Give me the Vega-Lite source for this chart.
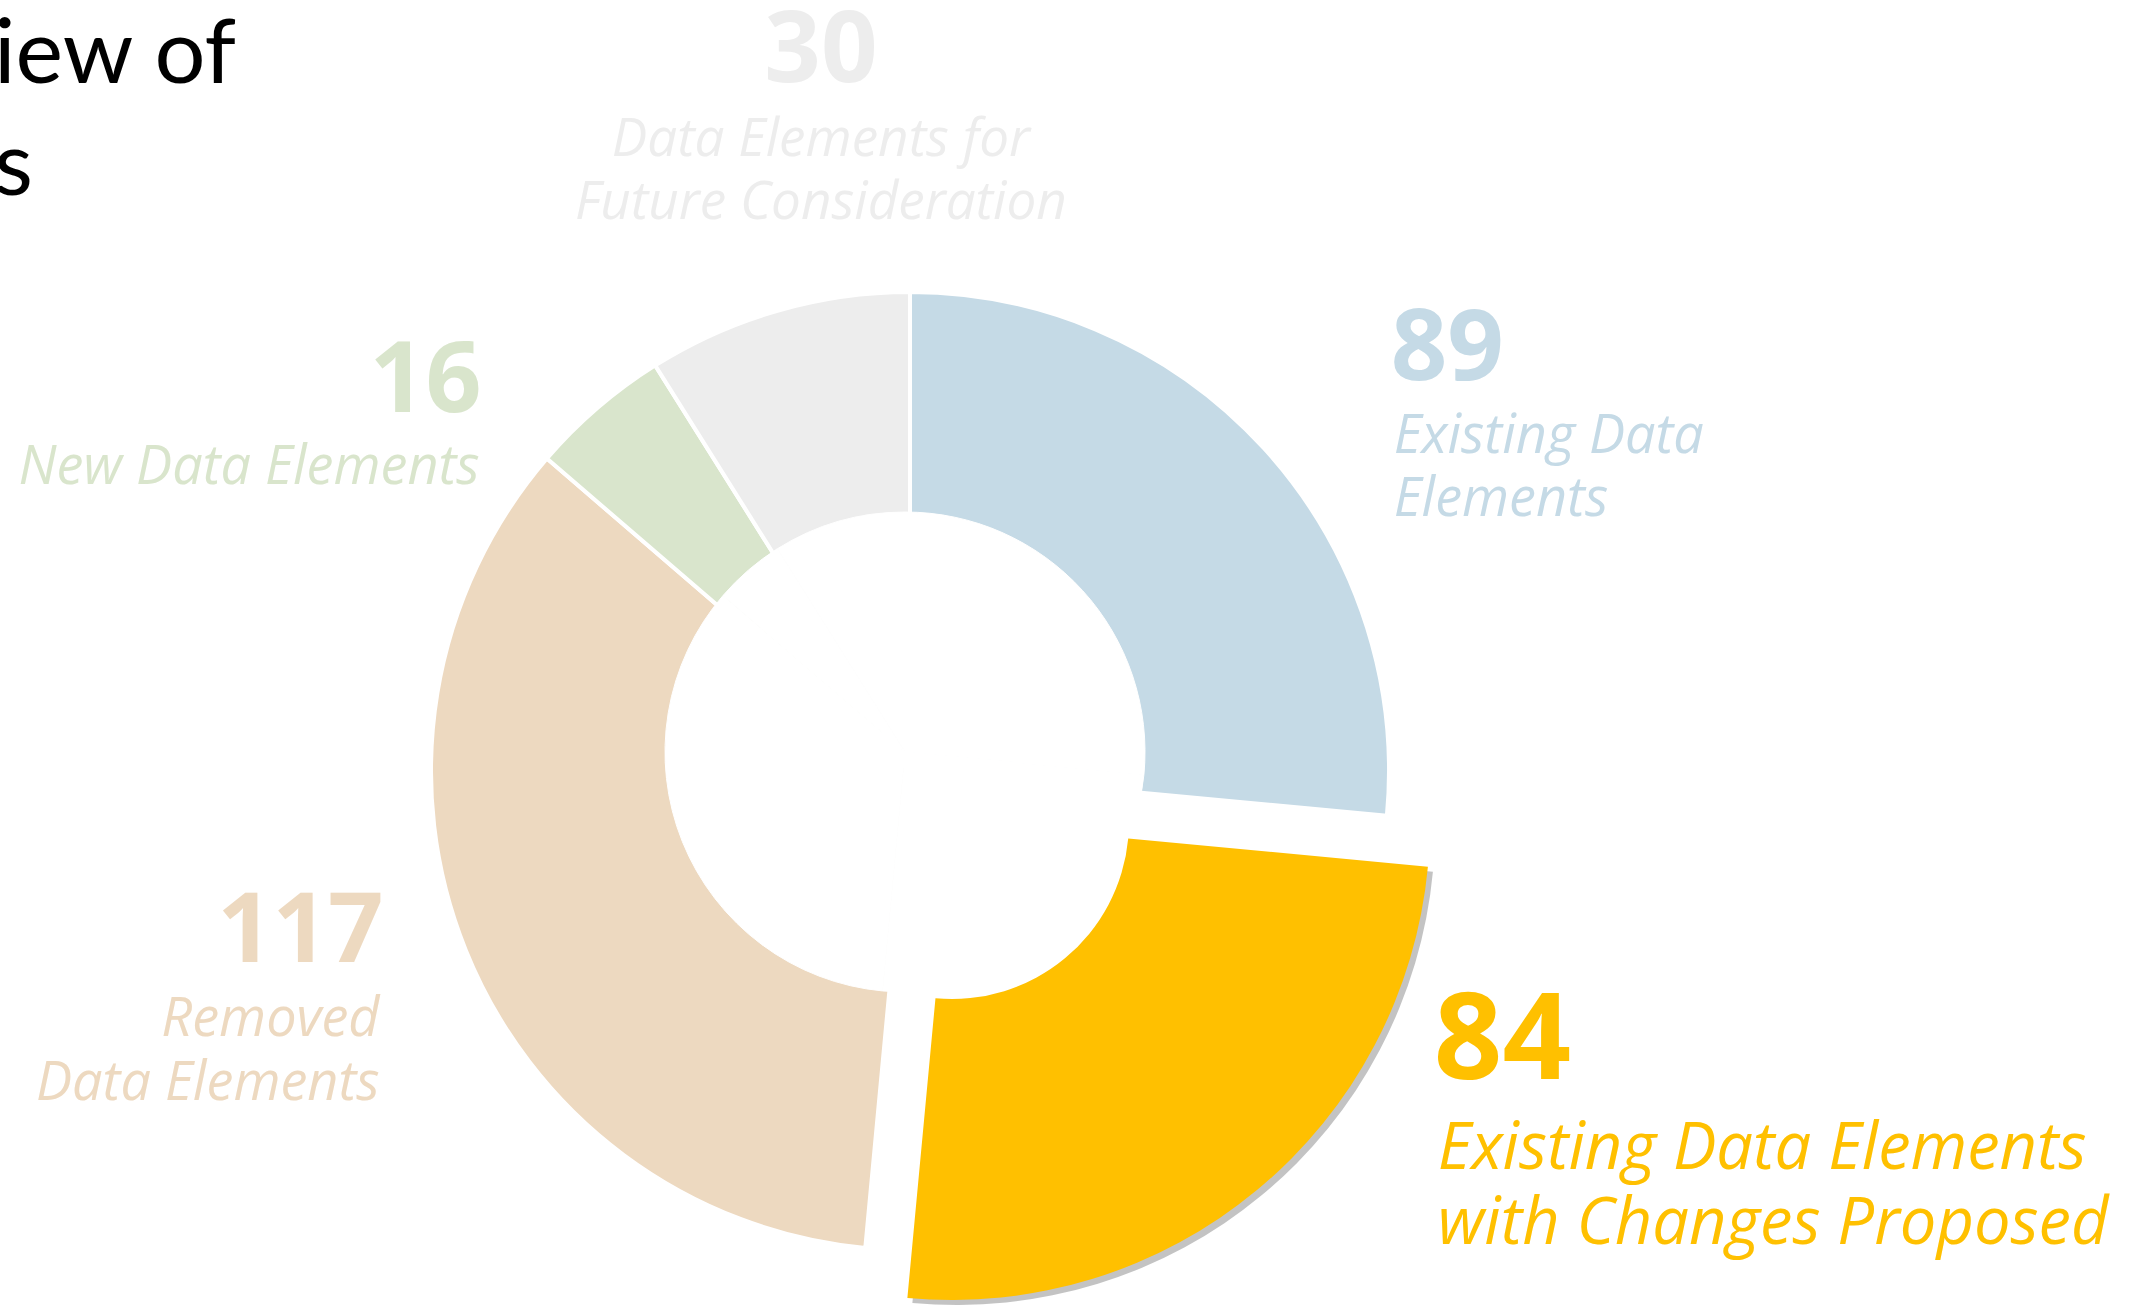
{
  "$schema": "https://vega.github.io/schema/vega-lite/v6.json",
  "autosize": {"type": "none"},
  "width": 1820,
  "height": 1068,
  "padding": {"left": 0, "top": 237, "right": 316, "bottom": 0},
  "background": "white",
  "config": {"view": {"stroke": null}},
  "title": {
    "text": ["iew of", "s"],
    "anchor": "start",
    "frame": "group",
    "orient": "top",
    "font": "Lato",
    "fontSize": 90,
    "fontWeight": "normal",
    "color": "#000000",
    "lineHeight": 112,
    "baseline": "bottom",
    "offset": -360,
    "dx": -6
  },
  "data": {
    "values": [
      {"category": "Existing Data Elements", "label": "Existing Data\nElements", "count": 89, "rank": 1},
      {"category": "Existing Data Elements with Changes Proposed", "label": "Existing Data Elements\nwith Changes Proposed", "count": 84, "rank": 2},
      {"category": "Removed Data Elements", "label": "Removed\nData Elements", "count": 117, "rank": 3},
      {"category": "New Data Elements", "label": "New Data Elements", "count": 16, "rank": 4},
      {"category": "Data Elements for Future Consideration", "label": "Data Elements for\nFuture Consideration", "count": 30, "rank": 5}
    ]
  },
  "encoding": {
    "theta": {"field": "count", "type": "quantitative", "stack": true},
    "order": {"field": "rank", "type": "quantitative", "sort": "ascending"}
  },
  "layer": [
    {
      "mark": {"type": "arc", "outerRadius": 479, "innerRadius": 0, "stroke": "white", "strokeWidth": 4},
      "encoding": {
        "color": {"field": "category", "type": "nominal", "legend": null, "scale": {"domain": ["Existing Data Elements", "Existing Data Elements with Changes Proposed", "Removed Data Elements", "New Data Elements", "Data Elements for Future Consideration"], "range": ["#C5DAE6", "#FFC000", "#EDD9C0", "#D9E5CC", "#EDEDED"]}},
        "opacity": {"condition": {"test": "datum.rank === 2", "value": 0}, "value": 1}
      }
    },
    {
      "mark": {"type": "arc", "outerRadius": 240, "innerRadius": 0, "fill": "white", "stroke": "white", "strokeWidth": 1, "xOffset": -5, "yOffset": -19},
      "encoding": {"detail": {"field": "category", "type": "nominal"}}
    },
    {
      "mark": {"type": "arc", "outerRadius": 478, "innerRadius": 177, "fill": "#7a7a7a", "xOffset": 47, "yOffset": 56},
      "encoding": {
        "detail": {"field": "category", "type": "nominal"},
        "opacity": {"condition": {"test": "datum.rank === 2", "value": 0.45}, "value": 0}
      }
    },
    {
      "mark": {"type": "arc", "outerRadius": 478, "innerRadius": 177, "xOffset": 42, "yOffset": 51},
      "encoding": {
        "color": {"field": "category", "type": "nominal", "legend": null, "scale": {"domain": ["Existing Data Elements", "Existing Data Elements with Changes Proposed", "Removed Data Elements", "New Data Elements", "Data Elements for Future Consideration"], "range": ["#C5DAE6", "#FFC000", "#EDD9C0", "#D9E5CC", "#EDEDED"]}},
        "opacity": {"condition": {"test": "datum.rank === 2", "value": 1}, "value": 0}
      }
    },
    {
      "mark": {"type": "text", "radius": 600, "align": "left", "baseline": "alphabetic", "dx": 37, "dy": 13, "font": "Open Sans", "fontSize": 99, "fontWeight": "bold"},
      "encoding": {
        "color": {"field": "category", "type": "nominal", "legend": null},
        "text": {"condition": {"test": "datum.rank === 1", "field": "count", "type": "quantitative"}, "value": ""}
      }
    },
    {
      "mark": {"type": "text", "radius": 600, "align": "left", "baseline": "alphabetic", "dx": 40, "dy": 86, "font": "Open Sans", "fontSize": 54, "fontStyle": "italic", "lineHeight": 63, "lineBreak": "\n"},
      "encoding": {
        "color": {"field": "category", "type": "nominal", "legend": null},
        "text": {"condition": {"test": "datum.rank === 1", "field": "label", "type": "nominal"}, "value": ""}
      }
    },
    {
      "mark": {"type": "text", "radius": 600, "align": "left", "baseline": "alphabetic", "dx": 141, "dy": -154, "font": "Open Sans", "fontSize": 120, "fontWeight": "bold"},
      "encoding": {
        "color": {"field": "category", "type": "nominal", "legend": null},
        "text": {"condition": {"test": "datum.rank === 2", "field": "count", "type": "quantitative"}, "value": ""}
      }
    },
    {
      "mark": {"type": "text", "radius": 600, "align": "left", "baseline": "alphabetic", "dx": 145, "dy": -64, "font": "Open Sans", "fontSize": 65, "fontStyle": "italic", "lineHeight": 75, "lineBreak": "\n"},
      "encoding": {
        "color": {"field": "category", "type": "nominal", "legend": null},
        "text": {"condition": {"test": "datum.rank === 2", "field": "label", "type": "nominal"}, "value": ""}
      }
    },
    {
      "mark": {"type": "text", "radius": 600, "align": "right", "baseline": "alphabetic", "dx": 30, "dy": -33, "font": "Open Sans", "fontSize": 97, "fontWeight": "bold"},
      "encoding": {
        "color": {"field": "category", "type": "nominal", "legend": null},
        "text": {"condition": {"test": "datum.rank === 3", "field": "count", "type": "quantitative"}, "value": ""}
      }
    },
    {
      "mark": {"type": "text", "radius": 600, "align": "right", "baseline": "alphabetic", "dx": 26, "dy": 41, "font": "Open Sans", "fontSize": 54, "fontStyle": "italic", "lineHeight": 64, "lineBreak": "\n"},
      "encoding": {
        "color": {"field": "category", "type": "nominal", "legend": null},
        "text": {"condition": {"test": "datum.rank === 3", "field": "label", "type": "nominal"}, "value": ""}
      }
    },
    {
      "mark": {"type": "text", "radius": 600, "align": "right", "baseline": "alphabetic", "dx": -37, "dy": 96, "font": "Open Sans", "fontSize": 98, "fontWeight": "bold"},
      "encoding": {
        "color": {"field": "category", "type": "nominal", "legend": null},
        "text": {"condition": {"test": "datum.rank === 4", "field": "count", "type": "quantitative"}, "value": ""}
      }
    },
    {
      "mark": {"type": "text", "radius": 600, "align": "right", "baseline": "alphabetic", "dx": -39, "dy": 168, "font": "Open Sans", "fontSize": 54, "fontStyle": "italic", "lineBreak": "\n"},
      "encoding": {
        "color": {"field": "category", "type": "nominal", "legend": null},
        "text": {"condition": {"test": "datum.rank === 4", "field": "label", "type": "nominal"}, "value": ""}
      }
    },
    {
      "mark": {"type": "text", "radius": 600, "align": "center", "baseline": "alphabetic", "dx": 77, "dy": -112, "font": "Open Sans", "fontSize": 99, "fontWeight": "bold"},
      "encoding": {
        "color": {"field": "category", "type": "nominal", "legend": null},
        "text": {"condition": {"test": "datum.rank === 5", "field": "count", "type": "quantitative"}, "value": ""}
      }
    },
    {
      "mark": {"type": "text", "radius": 600, "align": "center", "baseline": "alphabetic", "dx": 77, "dy": -38, "font": "Open Sans", "fontSize": 53, "fontStyle": "italic", "lineHeight": 63, "lineBreak": "\n"},
      "encoding": {
        "color": {"field": "category", "type": "nominal", "legend": null},
        "text": {"condition": {"test": "datum.rank === 5", "field": "label", "type": "nominal"}, "value": ""}
      }
    }
  ]
}
